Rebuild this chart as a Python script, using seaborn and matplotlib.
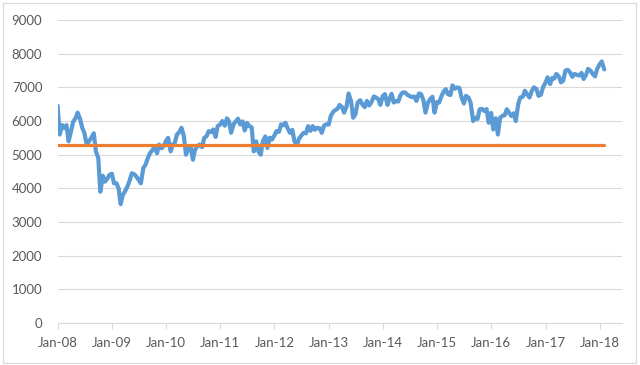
import pandas as pd
import matplotlib.pyplot as plt
import seaborn as sns
from matplotlib.patches import Rectangle

# =========================
# Data (two points a month: 1st and 15th)
# =========================

index_2008 = [6457, 5600, 5880, 5790, 5880, 5400, 5702, 5980, 6087, 6250, 6053, 5800,
              5626, 5300, 5412, 5500, 5637, 5100, 4902, 3900, 4377, 4200, 4288, 4400]
index_2009 = [4434, 4150, 4150, 4000, 3530, 3800, 3926, 4050, 4244, 4450, 4418, 4350,
              4249, 4150, 4608, 4700, 4909, 5050, 5134, 5250, 5045, 5300, 5191, 5250]
index_2010 = [5413, 5500, 5100, 5300, 5355, 5600, 5680, 5800, 5553, 5000, 5188, 5250,
              4850, 5150, 5258, 5300, 5225, 5500, 5549, 5700, 5675, 5750, 5528, 5850]
index_2011 = [5900, 6000, 5863, 6080, 5994, 5650, 5909, 5990, 6070, 5900, 5990, 5720,
              5946, 5850, 5815, 5100, 5395, 5100, 5000, 5400, 5544, 5200, 5505, 5450]
index_2012 = [5572, 5700, 5682, 5900, 5872, 5950, 5768, 5650, 5738, 5400, 5290, 5480,
              5571, 5650, 5635, 5850, 5711, 5850, 5742, 5800, 5783, 5650, 5867, 5900]
index_2013 = [5898, 6150, 6277, 6330, 6361, 6480, 6412, 6250, 6430, 6820, 6583, 6100,
              6215, 6550, 6621, 6500, 6413, 6600, 6462, 6550, 6731, 6700, 6651, 6480]
index_2014 = [6749, 6800, 6480, 6660, 6810, 6550, 6598, 6580, 6780, 6850, 6845, 6780,
              6744, 6710, 6730, 6600, 6820, 6800, 6623, 6250, 6546, 6650, 6723, 6250]
index_2015 = [6566, 6550, 6749, 6880, 6947, 6800, 6773, 7060, 6961, 7000, 6984, 6700,
              6521, 6750, 6696, 6550, 6000, 6100, 6062, 6350, 6361, 6300, 6356, 5950]
index_2016 = [6242, 5750, 6084, 5600, 6097, 6150, 6175, 6350, 6242, 6150, 6231, 6000,
              6504, 6700, 6724, 6900, 6782, 6700, 6899, 7000, 6954, 6750, 6784, 7000]
index_2017 = [7143, 7300, 7099, 7280, 7263, 7400, 7323, 7150, 7204, 7500, 7520, 7450,
              7313, 7400, 7372, 7350, 7431, 7250, 7373, 7550, 7493, 7400, 7327, 7550]
index_2018 = [7688, 7770, 7534]

benchmark = 5290
year_labels = ["Jan-08", "Jan-09", "Jan-10", "Jan-11", "Jan-12", "Jan-13",
               "Jan-14", "Jan-15", "Jan-16", "Jan-17", "Jan-18"]
y_ticks = [0, 1000, 2000, 3000, 4000, 5000, 6000, 7000, 8000, 9000]

values = (index_2008 + index_2009 + index_2010 + index_2011 + index_2012 + index_2013
          + index_2014 + index_2015 + index_2016 + index_2017 + index_2018)
dates = pd.date_range("2008-01-01", periods=len(values), freq="SMS")

df = pd.DataFrame({"Date": dates, "Index": values, "Benchmark": benchmark})

# =========================
# Plot
# =========================

sns.set_style("white")
plt.rcParams["font.family"] = ["Lato", "DejaVu Sans"]

fig = plt.figure(figsize=(6.4, 3.65), dpi=100)
ax = fig.add_axes([0.09, 0.115, 0.882, 0.83])

sns.lineplot(data=df, x="Date", y="Index", color="#5B9BD5", linewidth=3.0, ax=ax)
sns.lineplot(data=df, x="Date", y="Benchmark", color="#ED7D31", linewidth=2.3, ax=ax)

ax.set_ylim(0, 9000)
ax.set_yticks(y_ticks)
ax.set_xlim(pd.Timestamp("2008-01-01"), pd.Timestamp("2018-06-01"))
ax.set_xticks(pd.to_datetime([f"{y}-01-01" for y in range(2008, 2019)]))
ax.set_xticklabels(year_labels)

ax.grid(axis="y", color="#D9D9D9", linewidth=0.8)
ax.set_axisbelow(True)
for side in ["top", "right", "left"]:
    ax.spines[side].set_visible(False)
ax.spines["bottom"].set_color("#D9D9D9")
ax.spines["bottom"].set_linewidth(0.8)

ax.tick_params(axis="x", length=4, color="#D9D9D9", width=0.8, pad=6,
               labelsize=9.5, labelcolor="#595959", bottom=True)
ax.tick_params(axis="y", length=0, pad=11, labelsize=9.5, labelcolor="#595959")
ax.set_xlabel("")
ax.set_ylabel("")

# chart border
fig.patches.append(Rectangle((0.004, 0.006), 0.99, 0.986, transform=fig.transFigure,
                             fill=False, edgecolor="#D9D9D9", linewidth=0.8))

fig.savefig("out.png", dpi=100)
